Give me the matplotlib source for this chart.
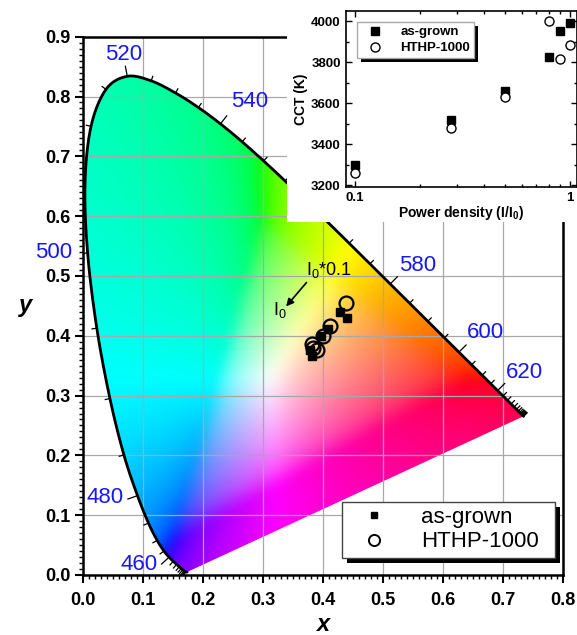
import numpy as np
import matplotlib
matplotlib.use("Agg")
import matplotlib.pyplot as plt
from matplotlib.patches import Polygon, Rectangle
from matplotlib.lines import Line2D
from matplotlib.collections import LineCollection
from matplotlib.transforms import IdentityTransform
from matplotlib.ticker import MultipleLocator, FixedLocator, NullFormatter

plt.rcParams['font.family'] = ['Liberation Sans', 'DejaVu Sans']
plt.rcParams['mathtext.fontset'] = 'custom'
plt.rcParams['mathtext.rm'] = 'Liberation Sans'
plt.rcParams['mathtext.it'] = 'Liberation Sans:italic'
plt.rcParams['mathtext.bf'] = 'Liberation Sans:bold'

# ---------------- data ----------------
# CIE 1931 2-degree spectral locus (chromaticity x, y), 380-700 nm in 5 nm steps
wavelengths = list(range(380, 705, 5))
locus_x = [0.1741, 0.1740, 0.1738, 0.1736, 0.1733, 0.1730, 0.1726, 0.1721,
           0.1714, 0.1703, 0.1689, 0.1669, 0.1644, 0.1611, 0.1566, 0.1510,
           0.1440, 0.1355, 0.1241, 0.1096, 0.0913, 0.0687, 0.0454, 0.0235,
           0.0082, 0.0039, 0.0139, 0.0389, 0.0743, 0.1142, 0.1547, 0.1929,
           0.2296, 0.2658, 0.3016, 0.3373, 0.3731, 0.4087, 0.4441, 0.4788,
           0.5125, 0.5448, 0.5752, 0.6029, 0.6270, 0.6482, 0.6658, 0.6801,
           0.6915, 0.7006, 0.7079, 0.7140, 0.7190, 0.7230, 0.7260, 0.7283,
           0.7300, 0.7311, 0.7320, 0.7327, 0.7334, 0.7340, 0.7344, 0.7346,
           0.7347]
locus_y = [0.0050, 0.0050, 0.0049, 0.0049, 0.0048, 0.0048, 0.0048, 0.0048,
           0.0051, 0.0058, 0.0069, 0.0086, 0.0109, 0.0138, 0.0177, 0.0227,
           0.0297, 0.0399, 0.0578, 0.0868, 0.1327, 0.2007, 0.2950, 0.4127,
           0.5384, 0.6548, 0.7502, 0.8120, 0.8338, 0.8262, 0.8059, 0.7816,
           0.7543, 0.7243, 0.6923, 0.6589, 0.6245, 0.5896, 0.5547, 0.5202,
           0.4866, 0.4544, 0.4242, 0.3965, 0.3725, 0.3514, 0.3340, 0.3197,
           0.3083, 0.2993, 0.2920, 0.2859, 0.2809, 0.2770, 0.2740, 0.2717,
           0.2700, 0.2689, 0.2680, 0.2673, 0.2666, 0.2660, 0.2656, 0.2654,
           0.2653]

label_wl = [460, 480, 500, 520, 540, 580, 600, 620]
label_pos_x = [0.094, 0.037, -0.048, 0.069, 0.279, 0.559, 0.671, 0.736]
label_pos_y = [0.017, 0.129, 0.540, 0.871, 0.791, 0.518, 0.405, 0.339]

asgrown_x = [0.441, 0.429, 0.409, 0.398, 0.382, 0.379]
asgrown_y = [0.429, 0.440, 0.412, 0.400, 0.366, 0.376]
hthp_x = [0.439, 0.413, 0.401, 0.383, 0.384, 0.390]
hthp_y = [0.454, 0.416, 0.400, 0.386, 0.379, 0.376]

power = [0.1, 0.28, 0.5, 0.8, 0.9, 1.0]
cct_asgrown = [3300, 3520, 3660, 3825, 3950, 3990]
cct_hthp = [3260, 3480, 3630, 4000, 3815, 3885]

series_names = ['as-grown', 'HTHP-1000']


def catmull_rom(px, py, sub=12):
    P = np.column_stack([px, py]).astype(float)
    P = np.vstack([2 * P[0] - P[1], P, 2 * P[-1] - P[-2]])
    out = []
    t = np.linspace(0, 1, sub, endpoint=False)[:, None]
    for i in range(1, len(P) - 2):
        p0, p1, p2, p3 = P[i - 1], P[i], P[i + 1], P[i + 2]
        seg = 0.5 * ((2 * p1) + (-p0 + p2) * t + (2 * p0 - 5 * p1 + 4 * p2 - p3) * t ** 2
                     + (-p0 + 3 * p1 - 3 * p2 + p3) * t ** 3)
        out.append(seg)
    out.append(P[-2][None, :])
    return np.vstack(out)


def gauss_blur(a, sigma):
    r = int(3 * sigma)
    k = np.exp(-0.5 * (np.arange(-r, r + 1) / sigma) ** 2)
    k /= k.sum()
    pad = np.pad(a, ((r, r), (r, r), (0, 0)), mode='edge')
    tmp = np.apply_along_axis(lambda v: np.convolve(v, k, mode='valid'), 0, pad)
    return np.apply_along_axis(lambda v: np.convolve(v, k, mode='valid'), 1, tmp)


# ---------------- figure ----------------
fig = plt.figure(figsize=(5.77, 6.35), dpi=100)
ax = fig.add_axes([0.1433, 0.0945, 0.8319, 0.8477])
ax.set_xlim(0, 0.8)
ax.set_ylim(0, 0.9)

# colour field of the chromaticity diagram
n = 400
gx = np.linspace(0, 0.8, n)
gy = np.linspace(0.0005, 0.9, n)
XX, YY = np.meshgrid(gx, gy)
ZZ = 1 - XX - YY
X = XX / YY
Y = np.ones_like(XX)
Z = ZZ / YY
R = 3.2406 * X - 1.5372 * Y - 0.4986 * Z
G = -0.9689 * X + 1.8758 * Y + 0.0415 * Z
B = 0.0557 * X - 0.2040 * Y + 1.0570 * Z
rgb = np.stack([R, G, B], -1)
mn = rgb.min(-1, keepdims=True)
rgb = rgb - np.minimum(mn, 0)
rgb = rgb / np.maximum(rgb.max(-1, keepdims=True), 1e-9)
rgb = np.where(rgb <= 0.0031308, 12.92 * rgb, 1.055 * np.power(rgb, 1 / 2.4) - 0.055)
rgb = np.clip(rgb, 0, 1)
rgb = np.clip(gauss_blur(rgb, 5), 0, 1)

smooth = catmull_rom(locus_x, locus_y)
poly = Polygon(smooth, closed=True, fc='none', ec='none', transform=ax.transData)
ax.add_patch(poly)
im = ax.imshow(rgb, extent=[0, 0.8, 0.0005, 0.9], origin='lower', aspect='auto',
               interpolation='bilinear', zorder=0)
im.set_clip_path(poly)

ax.grid(True, which='major', color='#a8a8a8', lw=0.9)

# spectral locus line
ax.plot(smooth[:, 0], smooth[:, 1], color='k', lw=2.0, zorder=3,
        solid_joinstyle='round', solid_capstyle='round')

# wavelength ticks on the locus
lx = np.array(locus_x)
ly = np.array(locus_y)
segs = []
for i, w in enumerate(wavelengths):
    if w < 420:
        continue
    i0 = max(i - 1, 0)
    i1 = min(i + 1, len(lx) - 1)
    dx = lx[i1] - lx[i0]
    dy = ly[i1] - ly[i0]
    nrm = np.hypot(dx, dy)
    nx, ny = -dy / nrm, dx / nrm
    L = 0.018 if w in label_wl else 0.009
    segs.append([(lx[i], ly[i]), (lx[i] + nx * L, ly[i] + ny * L)])
ax.add_collection(LineCollection(segs, colors='k', linewidths=0.9, zorder=3))

for w, tx, ty in zip(label_wl, label_pos_x, label_pos_y):
    ax.text(tx, ty, str(w), color='#1818ec', fontsize=16, ha='center',
            va='center', zorder=4, clip_on=False)

# data points
ax.plot(asgrown_x, asgrown_y, ls='none', marker='s', color='k', markersize=6,
        zorder=5)
ax.plot(hthp_x, hthp_y, ls='none', marker='o', mfc='none', mec='k',
        markersize=10, mew=1.6, zorder=5)

# annotation
ax.annotate('', xy=(0.339, 0.449), xytext=(0.373, 0.489),
            arrowprops=dict(arrowstyle='-|>', color='k', lw=1.2,
                            mutation_scale=11, shrinkA=0, shrinkB=0), zorder=6)
ax.text(0.372, 0.502, r'I$_0$*0.1', fontsize=13, ha='left', va='baseline', zorder=6)
ax.text(0.317, 0.435, r'I$_0$', fontsize=13, ha='left', va='baseline', zorder=6)

# axes styling
for s in ax.spines.values():
    s.set_linewidth(1.8)
ax.xaxis.set_major_locator(MultipleLocator(0.1))
ax.yaxis.set_major_locator(MultipleLocator(0.1))
ax.xaxis.set_minor_locator(MultipleLocator(0.01))
ax.yaxis.set_minor_locator(MultipleLocator(0.01))
ax.xaxis.set_major_formatter(matplotlib.ticker.FormatStrFormatter('%.1f'))
ax.yaxis.set_major_formatter(matplotlib.ticker.FormatStrFormatter('%.1f'))
ax.tick_params(which='major', direction='out', length=6, width=1.5,
               labelsize=13, pad=3)
ax.tick_params(axis='x', which='major', pad=6)
ax.tick_params(which='minor', direction='out', length=3, width=1.0)
for lab in ax.get_xticklabels() + ax.get_yticklabels():
    lab.set_fontweight('bold')
ax.set_xlabel('x', fontsize=17, fontweight='bold', fontstyle='italic', labelpad=3)
ax.set_ylabel('y', fontsize=17, fontweight='bold', fontstyle='italic', labelpad=14,
              rotation=0, va='center')

handles = [Line2D([], [], ls='none', marker='s', color='k', markersize=5),
           Line2D([], [], ls='none', marker='o', mfc='none', mec='k',
                  markersize=8, mew=1.4)]
leg = ax.legend(handles, series_names, loc='lower left',
                bbox_to_anchor=(0.540, 0.0316), borderaxespad=0, fontsize=16,
                frameon=True, fancybox=False, edgecolor='#444444',
                framealpha=1, labelspacing=0.15, borderpad=0.25,
                handlelength=2.4, handletextpad=0.9)
leg.set_zorder(7)

# white cover behind the inset
cover = Rectangle((0.497, 0.650), 0.503, 0.35, transform=fig.transFigure,
                  fc='white', ec='none', zorder=1)
fig.add_artist(cover)

# ---------------- inset ----------------
ax2 = fig.add_axes([0.599, 0.706, 0.401, 0.2767])
ax2.set_zorder(2)
ax2.set_xscale('log')
ax2.set_xlim(0.0902, 1.083)
ax2.set_ylim(3193, 4049)
ax2.plot(power, cct_asgrown, ls='none', marker='s', color='k', markersize=6)
ax2.plot(power, cct_hthp, ls='none', marker='o', mfc='white', mec='k',
         markersize=6.5, mew=1.0)
ax2.xaxis.set_major_locator(FixedLocator([0.1, 1]))
ax2.xaxis.set_major_formatter(matplotlib.ticker.FixedFormatter(['0.1', '1']))
ax2.xaxis.set_minor_locator(FixedLocator([0.2, 0.3, 0.4, 0.5, 0.6, 0.7, 0.8, 0.9]))
ax2.xaxis.set_minor_formatter(NullFormatter())
ax2.yaxis.set_major_locator(MultipleLocator(200))
ax2.yaxis.set_minor_locator(MultipleLocator(100))
ax2.tick_params(which='both', direction='in', top=True, right=True,
                labelsize=9.5, width=1.0)
ax2.tick_params(which='major', length=4)
ax2.tick_params(which='minor', length=2.5)
for lab in ax2.get_xticklabels() + ax2.get_yticklabels():
    lab.set_fontweight('bold')
for s in ax2.spines.values():
    s.set_linewidth(1.2)
ax2.set_xlabel(r'Power density (I/I$_\mathbf{0}$)', fontsize=10, fontweight='bold',
               labelpad=0)
ax2.set_ylabel('CCT (K)', fontsize=10, fontweight='bold', labelpad=2)
handles2 = [Line2D([], [], ls='none', marker='s', color='k', markersize=6),
            Line2D([], [], ls='none', marker='o', mfc='white', mec='k',
                   markersize=6.5, mew=1.0)]
leg2 = ax2.legend(handles2, series_names, loc='upper left',
                  bbox_to_anchor=(0.049, 0.937), borderaxespad=0,
                  prop={'size': 9.5, 'weight': 'bold'}, frameon=True,
                  fancybox=False, edgecolor='#aaaaaa', framealpha=1,
                  labelspacing=0.3, borderpad=0.3, handlelength=2.2,
                  handletextpad=0.8)
leg2.set_zorder(7)


def custom_frame(axis, legend, extra_right, dx, dy, edge):
    fig.canvas.draw()
    bb = legend.get_frame().get_window_extent()
    legend.set_frame_on(False)
    w = bb.width + extra_right
    sh = Rectangle((bb.x0 + dx, bb.y0 - dy), w, bb.height,
                   transform=IdentityTransform(), fc='k', ec='none',
                   zorder=legend.get_zorder() - 0.2)
    fr = Rectangle((bb.x0, bb.y0), w, bb.height,
                   transform=IdentityTransform(), fc='white', ec=edge, lw=1.0,
                   zorder=legend.get_zorder() - 0.1)
    for r in (sh, fr):
        axis.add_artist(r)
        r.set_clip_on(False)


custom_frame(ax, leg, 11, 5, 5, '#444444')
custom_frame(ax2, leg2, 0, 4, 4, '#aaaaaa')

fig.savefig('out.png', dpi=100)
